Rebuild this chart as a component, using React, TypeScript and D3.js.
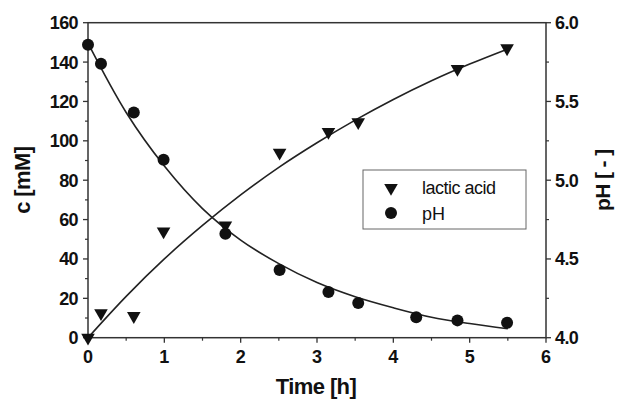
import React from "react";
import * as d3 from "d3";

// measured points
const lacticTime = [0, 0.17, 0.6, 0.99, 1.8, 2.51, 3.15, 3.54, 4.84, 5.49];
const lacticConc = [0, 12.5, 11, 54, 57, 94, 104.5, 109.5, 136.5, 147];

const phTime = [0, 0.17, 0.6, 0.99, 1.8, 2.51, 3.15, 3.54, 4.3, 4.84, 5.49];
const phValue = [5.86, 5.74, 5.43, 5.13, 4.66, 4.43, 4.29, 4.22, 4.13, 4.11, 4.095];

// fitted curves
const fitTime = [0, 0.5, 1, 1.5, 2, 2.5, 3, 3.5, 4, 4.5, 5, 5.5];
const lacticFit = [0, 21, 40, 57, 72.5, 86.5, 99, 110.5, 121, 130.5, 139, 146.7];
const phFit = [5.87, 5.43, 5.09, 4.82, 4.62, 4.47, 4.35, 4.26, 4.19, 4.13, 4.09, 4.057];

const xTicks = [0, 1, 2, 3, 4, 5, 6];
const cTicks = [0, 20, 40, 60, 80, 100, 120, 140, 160];
const phTicks = [4.0, 4.5, 5.0, 5.5, 6.0];

const W = 617;
const H = 401;
const left = 88;
const right = 546;
const top = 22.7;
const bottom = 337.7;
const axisColor = "#333";
const font = "'Liberation Sans', Arial, sans-serif";

export default function App() {
  const x = d3.scaleLinear().domain([0, 6]).range([left, right]);
  const yC = d3.scaleLinear().domain([0, 160]).range([bottom, top]);
  const yPh = d3.scaleLinear().domain([4, 6]).range([bottom, top]);

  const lacticLine = d3
    .line<number>()
    .x((d, i) => x(fitTime[i]))
    .y((d) => yC(d))
    .curve(d3.curveCatmullRom);
  const phLine = d3
    .line<number>()
    .x((d, i) => x(fitTime[i]))
    .y((d) => yPh(d))
    .curve(d3.curveCatmullRom);

  const tri = d3.symbol().type(d3.symbolTriangle).size(80)();

  const xMinor = d3.range(0.5, 6, 1);
  const cMinor = d3.range(10, 160, 20);
  const phMinor = d3.range(4.25, 6, 0.5);

  return (
    <svg
      width={W}
      height={H}
      style={{ position: "absolute", left: 0, top: 0, background: "#fff" }}
      fontFamily={font}
    >
      {/* frame */}
      <rect x={left} y={top} width={right - left} height={bottom - top} fill="none" stroke={axisColor} strokeWidth={1.5} />

      {/* bottom axis */}
      {xTicks.map((t) => (
        <g key={"x" + t}>
          <line x1={x(t)} x2={x(t)} y1={bottom} y2={bottom + 5} stroke={axisColor} strokeWidth={1.3} />
          <text x={x(t)} y={363} textAnchor="middle" fontSize={18} fontWeight="bold" fill="#111">
            {t}
          </text>
        </g>
      ))}
      {xMinor.map((t) => (
        <line key={"xm" + t} x1={x(t)} x2={x(t)} y1={bottom} y2={bottom + 3} stroke={axisColor} strokeWidth={1.2} />
      ))}

      {/* left axis */}
      {cTicks.map((t) => (
        <g key={"c" + t}>
          <line x1={left - 5} x2={left} y1={yC(t)} y2={yC(t)} stroke={axisColor} strokeWidth={1.3} />
          <text x={78} y={yC(t) + 6.5} textAnchor="end" fontSize={18} fontWeight="bold" fill="#111" letterSpacing={-0.6}>
            {t}
          </text>
        </g>
      ))}
      {cMinor.map((t) => (
        <line key={"cm" + t} x1={left - 3} x2={left} y1={yC(t)} y2={yC(t)} stroke={axisColor} strokeWidth={1.2} />
      ))}

      {/* right axis */}
      {phTicks.map((t) => (
        <g key={"p" + t}>
          <line x1={right} x2={right + 5} y1={yPh(t)} y2={yPh(t)} stroke={axisColor} strokeWidth={1.3} />
          <text x={555} y={yPh(t) + 6.5} textAnchor="start" fontSize={18} fontWeight="bold" fill="#111" letterSpacing={-0.6}>
            {t.toFixed(1)}
          </text>
        </g>
      ))}
      {phMinor.map((t) => (
        <line key={"pm" + t} x1={right} x2={right + 3} y1={yPh(t)} y2={yPh(t)} stroke={axisColor} strokeWidth={1.2} />
      ))}

      {/* axis titles */}
      <text x={316} y={394} textAnchor="middle" fontSize={22} fontWeight="bold" fill="#111" letterSpacing={-0.6}>
        Time [h]
      </text>
      <text
        transform={`translate(30,${(top + bottom) / 2}) rotate(-90)`}
        textAnchor="middle"
        fontSize={22}
        fontWeight="bold"
        fill="#111"
        letterSpacing={-0.6}
      >
        c [mM]
      </text>
      <text
        transform={`translate(610,${(top + bottom) / 2}) rotate(-90)`}
        textAnchor="middle"
        fontSize={21}
        fontWeight="bold"
        fill="#111"
        letterSpacing={-0.6}
      >
        pH [ - ]
      </text>

      {/* fits */}
      <path d={lacticLine(lacticFit) || ""} fill="none" stroke="#222" strokeWidth={1.6} />
      <path d={phLine(phFit) || ""} fill="none" stroke="#222" strokeWidth={1.6} />

      {/* data */}
      {lacticConc.map((c, i) => (
        <path key={"l" + i} d={tri || ""} transform={`translate(${x(lacticTime[i])},${yC(c)}) rotate(180)`} fill="#111" />
      ))}
      {phValue.map((p, i) => (
        <circle key={"h" + i} cx={x(phTime[i])} cy={yPh(p)} r={6} fill="#111" />
      ))}

      {/* legend */}
      <rect x={363} y={170} width={163} height={59} fill="#fff" stroke="#666" strokeWidth={1} />
      <path d={tri || ""} transform="translate(391,188) rotate(180)" fill="#111" />
      <text x={422} y={194} fontSize={18} fill="#111" letterSpacing={-0.5}>
        lactic acid
      </text>
      <circle cx={391} cy={213} r={6} fill="#111" />
      <text x={422} y={220} fontSize={18} fill="#111">
        pH
      </text>
    </svg>
  );
}
